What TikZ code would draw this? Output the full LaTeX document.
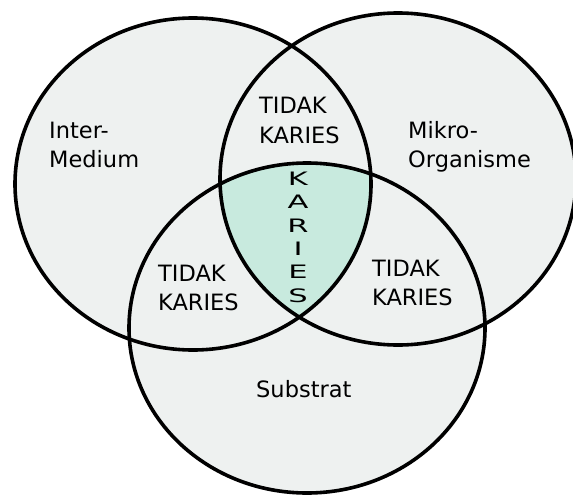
\documentclass[tikz,border=0pt]{standalone}
\usepackage{fontspec}
\usepackage{graphicx}
\setmainfont{DejaVu Sans}
\definecolor{venngrey}{RGB}{238,241,240}
\definecolor{vennmint}{RGB}{200,234,222}
\begin{document}
\begin{tikzpicture}[x=1pt,y=-1pt,
  vennline/.style={line width=3.6pt,black},
  label/.style={anchor=base west,inner sep=0pt,font=\fontsize{22.5pt}{27pt}\selectfont},
  vletter/.style={anchor=base,inner sep=0pt,font=\fontsize{18.5pt}{20pt}\selectfont}]
\useasboundingbox[fill=white] (0,0) rectangle (573,495);
\def\ellL{(193,184) ellipse [x radius=178pt, y radius=166pt]}
\def\ellR{(398,179) ellipse [x radius=178pt, y radius=166pt]}
\def\ellB{(307,328) ellipse [x radius=178pt, y radius=165pt]}
% fills
\fill[venngrey] \ellL;
\fill[venngrey] \ellR;
\fill[venngrey] \ellB;
\begin{scope}
  \clip \ellL;
  \clip \ellR;
  \fill[vennmint] \ellB;
\end{scope}
% outlines
\draw[vennline] \ellL;
\draw[vennline] \ellR;
\draw[vennline] \ellB;
% labels
\node[label] (inter1) at (49,138) {Inter-};
\node[label] (inter2) at (49,167) {Medium};
\node[label] (mikro1) at (408,138) {Mikro-};
\node[label] (mikro2) at (408,167) {Organisme};
\node[label] (top1) at (259,113) {TIDAK};
\node[label] (top2) at (259,143) {KARIES};
\node[label] (bl1) at (158,281) {TIDAK};
\node[label] (bl2) at (158,310) {KARIES};
\node[label] (br1) at (372,276) {TIDAK};
\node[label] (br2) at (372,305) {KARIES};
\node[label] (sub) at (256,397) {Substrat};
% vertical KARIES
\foreach \ch/\yy [count=\i] in {K/185,A/208.5,R/232,I/255,E/278.5,S/302}
  \node[vletter] (kar\i) at (298,\yy) {\scalebox{1.65}[1]{\ch}};
\end{tikzpicture}
\end{document}
